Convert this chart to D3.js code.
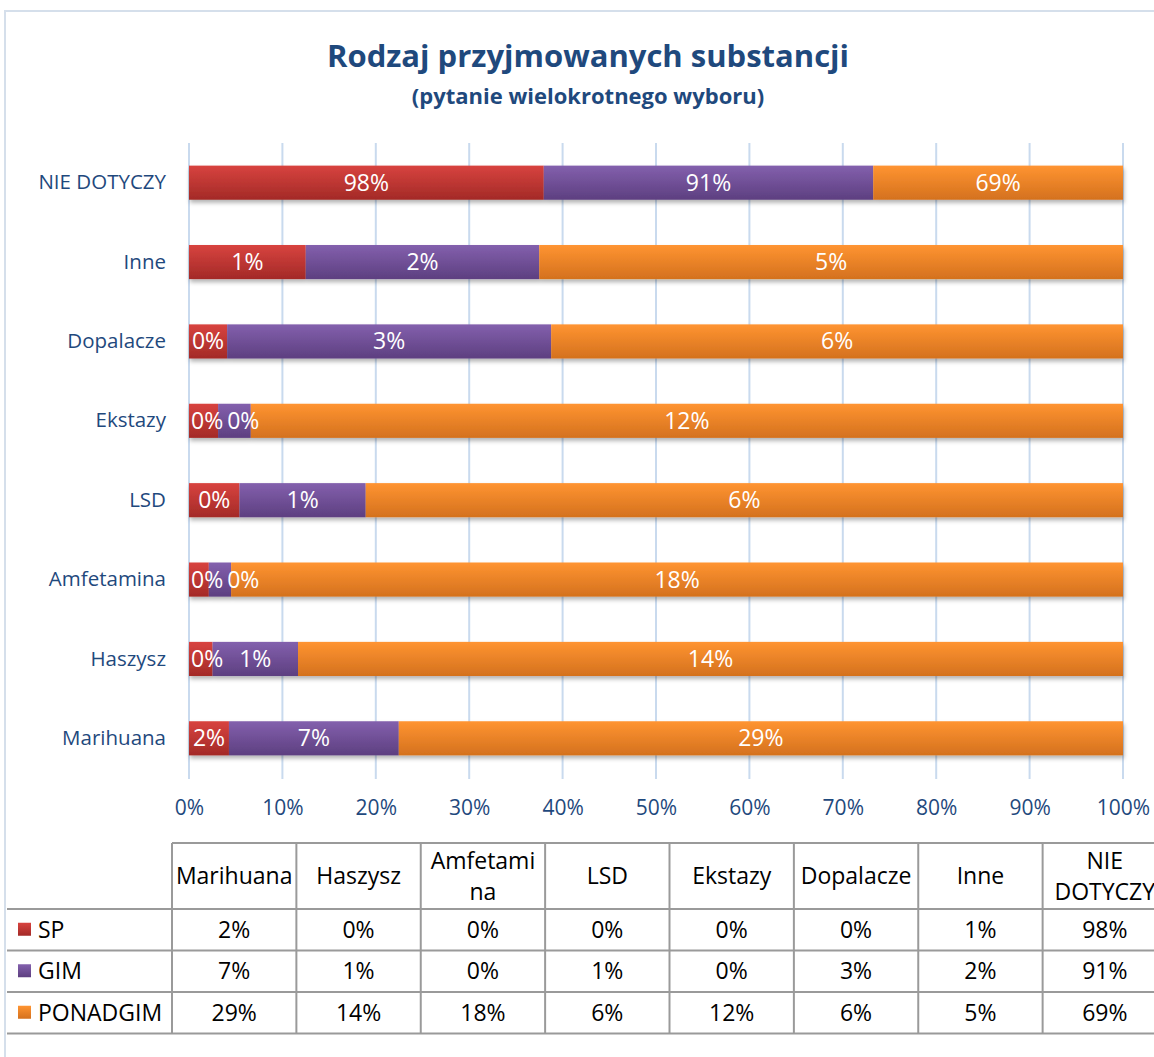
<!DOCTYPE html>
<html>
<head>
<meta charset="utf-8">
<script src="https://cdn.jsdelivr.net/npm/d3@7"></script>
<style>
  body { margin: 0; background: #fff; }
  svg { display: block; font-family: "Open Sans", sans-serif; }
</style>
</head>
<body>
<svg width="1154" height="1057"></svg>
<script>
// dane wykresu
var categories = ["Marihuana", "Haszysz", "Amfetamina", "LSD", "Ekstazy", "Dopalacze", "Inne", "NIE DOTYCZY"];
var tableHeaders = [["Marihuana"], ["Haszysz"], ["Amfetami", "na"], ["LSD"], ["Ekstazy"], ["Dopalacze"], ["Inne"], ["NIE", "DOTYCZY"]];
var seriesNames = ["SP", "GIM", "PONADGIM"];
var sp = [1.6, 0.4, 0.4, 0.4, 0.4, 0.4, 1.0, 98];
var gim = [6.8, 1.45, 0.45, 1.0, 0.45, 3.4, 2.0, 91];
var ponadgim = [29, 14, 18, 6, 12, 6, 5, 69];
var xTicks = [0, 0.1, 0.2, 0.3, 0.4, 0.5, 0.6, 0.7, 0.8, 0.9, 1];

var colors = {
  SP: ["#d8433f", "#a32a27"],
  GIM: ["#8360ad", "#5d3f80"],
  PONADGIM: ["#ff9431", "#d4711e"]
};
var textBlue = "#1f497d";
var font = "'Open Sans', sans-serif";

var rows = categories.map(function(c, i) {
  return {cat: c, SP: sp[i], GIM: gim[i], PONADGIM: ponadgim[i]};
});

var svg = d3.select("svg");
var fmt = d3.format(".0%");

// gradienty i cien
var defs = svg.append("defs");
seriesNames.forEach(function(s) {
  var g = defs.append("linearGradient").attr("id", "grad-" + s)
    .attr("x1", 0).attr("y1", 0).attr("x2", 0).attr("y2", 1);
  g.append("stop").attr("offset", "0%").attr("stop-color", colors[s][0]);
  g.append("stop").attr("offset", "100%").attr("stop-color", colors[s][1]);
});
var f = defs.append("filter").attr("id", "shadow")
  .attr("x", "-5%").attr("y", "-20%").attr("width", "110%").attr("height", "160%");
f.append("feDropShadow").attr("dx", 1).attr("dy", 3).attr("stdDeviation", 2)
  .attr("flood-color", "#000").attr("flood-opacity", 0.3);

// ramka obszaru wykresu
svg.append("rect")
  .attr("x", 5).attr("y", 11).attr("width", 1200).attr("height", 1100)
  .attr("fill", "none").attr("stroke", "#d5dfeb").attr("stroke-width", 2);

// tytul
svg.append("text")
  .attr("x", 588).attr("y", 67)
  .attr("text-anchor", "middle")
  .attr("font-size", 31).attr("font-weight", "bold")
  .attr("fill", textBlue)
  .text("Rodzaj przyjmowanych substancji");
svg.append("text")
  .attr("x", 588).attr("y", 104)
  .attr("text-anchor", "middle")
  .attr("font-size", 22).attr("font-weight", "bold")
  .attr("fill", textBlue)
  .text("(pytanie wielokrotnego wyboru)");

// skale
var x = d3.scaleLinear().domain([0, 1]).range([189, 1123]);
var y = d3.scaleBand().domain(categories.slice().reverse()).range([143, 778]).paddingInner(0.57).paddingOuter(0.285);

// siatka
svg.append("g").selectAll("line")
  .data(xTicks)
  .enter().append("line")
  .attr("x1", function(d) { return x(d); })
  .attr("x2", function(d) { return x(d); })
  .attr("y1", 143).attr("y2", 779)
  .attr("stroke", "#c9daee").attr("stroke-width", 2);

// os x
var xAxis = svg.append("g")
  .attr("transform", "translate(0,779)")
  .call(d3.axisBottom(x).tickValues(xTicks).tickFormat(fmt).tickSize(0).tickPadding(21));
xAxis.select(".domain").remove();
xAxis.selectAll("text")
  .attr("font-size", 21).attr("fill", textBlue)
  .attr("font-family", font);

// os y
var yAxis = svg.append("g")
  .attr("transform", "translate(166,0)")
  .call(d3.axisLeft(y).tickSize(0).tickPadding(0));
yAxis.select(".domain").remove();
yAxis.selectAll("text")
  .attr("font-size", 20.5).attr("fill", textBlue)
  .attr("font-family", font);

// slupki
var stack = d3.stack().keys(seriesNames).offset(d3.stackOffsetExpand);
var stacked = stack(rows);

var barG = svg.append("g").attr("filter", "url(#shadow)");
barG.selectAll("g")
  .data(stacked)
  .enter().append("g")
  .attr("fill", function(d) { return "url(#grad-" + d.key + ")"; })
  .selectAll("rect")
  .data(function(d) { return d; })
  .enter().append("rect")
  .attr("x", function(d) { return x(d[0]); })
  .attr("y", function(d) { return y(d.data.cat); })
  .attr("width", function(d) { return x(d[1]) - x(d[0]); })
  .attr("height", y.bandwidth());

// etykiety danych (z przesunieciem gdy nachodza na siebie)
var labelG = svg.append("g");
rows.forEach(function(r, i) {
  var prevRight = x(0);
  seriesNames.forEach(function(s, k) {
    var seg = stacked[k][i];
    var t = labelG.append("text")
      .attr("y", y(r.cat) + y.bandwidth() / 2)
      .attr("dy", "0.35em")
      .attr("text-anchor", "middle")
      .attr("font-size", 23)
      .attr("fill", "#fff")
      .text(fmt(r[s] / 100));
    var w = t.node().getComputedTextLength();
    var cx = (x(seg[0]) + x(seg[1])) / 2;
    cx = Math.max(cx, prevRight + w / 2 + 2);
    t.attr("x", cx);
    prevRight = cx + w / 2 + 2;
  });
});

// tabela danych
var col = d3.scaleBand().domain(categories).range([172, 1167]);
var tableTop = 843, headerH = 66, rowH = 41.5;
var tableBottom = tableTop + headerH + rowH * 3;
var tg = svg.append("g");
var lineColor = "#9a9a9a";

// linie poziome
tg.append("line").attr("x1", 172).attr("x2", 1154).attr("y1", tableTop).attr("y2", tableTop)
  .attr("stroke", lineColor).attr("stroke-width", 2);
[0, 1, 2, 3].forEach(function(k) {
  var yy = tableTop + headerH + rowH * k;
  tg.append("line").attr("x1", 7).attr("x2", 1154).attr("y1", yy).attr("y2", yy)
    .attr("stroke", lineColor).attr("stroke-width", 2);
});
// linie pionowe
categories.forEach(function(c) {
  tg.append("line").attr("x1", col(c)).attr("x2", col(c))
    .attr("y1", tableTop).attr("y2", tableBottom)
    .attr("stroke", lineColor).attr("stroke-width", 2);
});

// naglowki
categories.forEach(function(c, i) {
  var lines = tableHeaders[i];
  var cy = tableTop + headerH / 2;
  var t = tg.append("text")
    .attr("x", col(c) + col.bandwidth() / 2)
    .attr("text-anchor", "middle")
    .attr("font-size", 23).attr("fill", "#000");
  lines.forEach(function(l, j) {
    t.append("tspan")
      .attr("x", col(c) + col.bandwidth() / 2)
      .attr("y", cy + (j - (lines.length - 1) / 2) * 31)
      .attr("dy", "0.35em")
      .text(l);
  });
});

// wiersze serii
var seriesData = [sp, gim, ponadgim];
seriesNames.forEach(function(s, k) {
  var cy = tableTop + headerH + rowH * k + rowH / 2;
  tg.append("rect")
    .attr("x", 18).attr("y", cy - 7).attr("width", 13).attr("height", 13)
    .attr("fill", "url(#grad-" + s + ")");
  tg.append("text")
    .attr("x", 38).attr("y", cy).attr("dy", "0.35em")
    .attr("font-size", 23).attr("fill", "#000")
    .text(s);
  seriesData[k].forEach(function(v, i) {
    tg.append("text")
      .attr("x", col(categories[i]) + col.bandwidth() / 2)
      .attr("y", cy).attr("dy", "0.35em")
      .attr("text-anchor", "middle")
      .attr("font-size", 23).attr("fill", "#000")
      .text(fmt(v / 100));
  });
});
</script>
</body>
</html>
